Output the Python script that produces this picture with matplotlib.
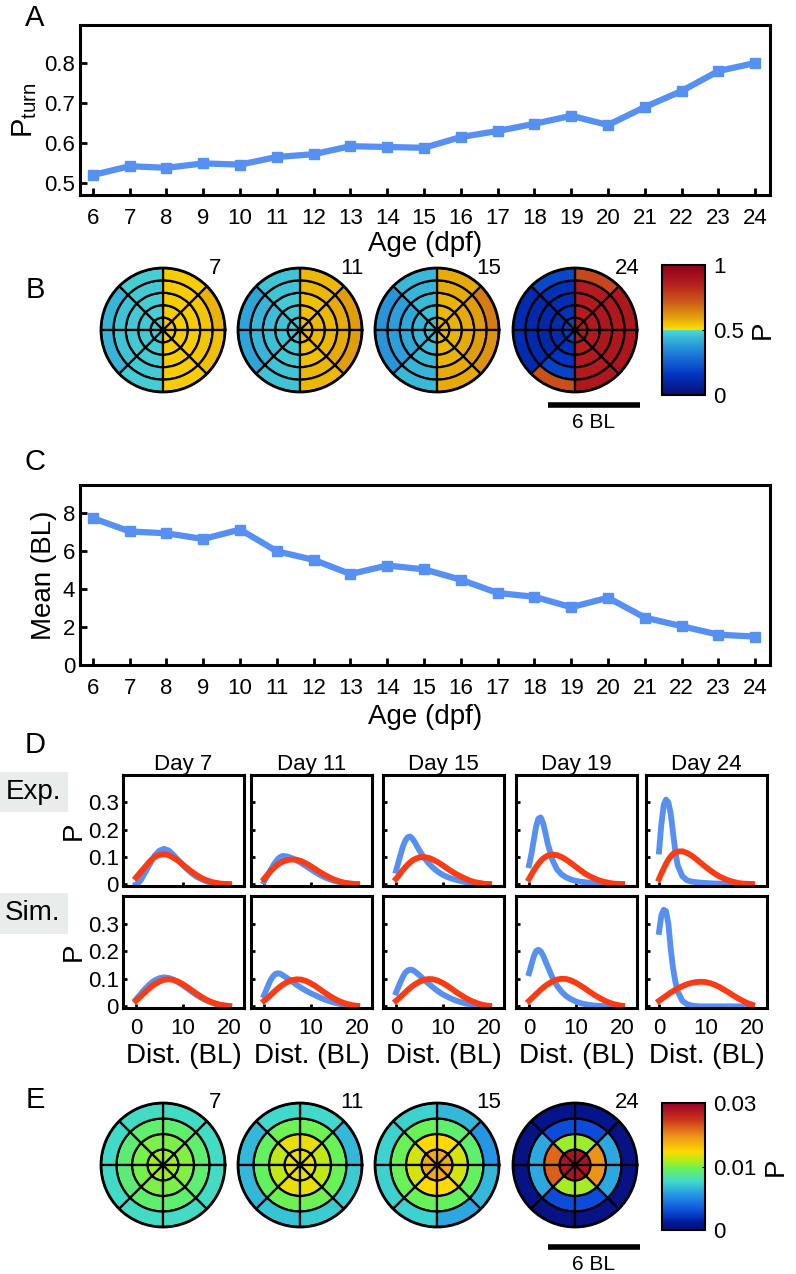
import numpy as np
import matplotlib
matplotlib.use('Agg')
import matplotlib.pyplot as plt
from matplotlib.colors import LinearSegmentedColormap, Normalize, PowerNorm
from matplotlib.cm import ScalarMappable
from matplotlib.lines import Line2D
from matplotlib.patches import Rectangle

plt.rcParams['font.family'] = ['Liberation Sans', 'DejaVu Sans']
plt.rcParams['mathtext.fontset'] = 'custom'
plt.rcParams['mathtext.rm'] = 'Liberation Sans'

# ---- data ----
ages = list(range(6, 25))
p_turn = [0.52, 0.542, 0.538, 0.549, 0.546, 0.565, 0.572, 0.592, 0.59, 0.588,
          0.615, 0.63, 0.648, 0.668, 0.645, 0.69, 0.73, 0.78, 0.80]
mean_dist = [7.75, 7.05, 6.95, 6.65, 7.15, 6.0, 5.55, 4.8, 5.25, 5.05,
             4.5, 3.8, 3.6, 3.05, 3.55, 2.5, 2.05, 1.6, 1.5]

rose_days = ['7', '11', '15', '24']
# turn probability per region: rows = rings (centre -> edge), cols = 45 deg sectors (ccw from east)
turn_map = [
    [[0.53, 0.53, 0.48, 0.48, 0.48, 0.48, 0.53, 0.53],
     [0.53, 0.53, 0.48, 0.47, 0.47, 0.48, 0.53, 0.53],
     [0.53, 0.53, 0.48, 0.47, 0.47, 0.48, 0.53, 0.53],
     [0.54, 0.53, 0.47, 0.46, 0.46, 0.47, 0.53, 0.54],
     [0.57, 0.53, 0.48, 0.43, 0.43, 0.48, 0.53, 0.55]],
    [[0.55, 0.55, 0.47, 0.47, 0.47, 0.47, 0.55, 0.55],
     [0.56, 0.55, 0.47, 0.46, 0.46, 0.47, 0.55, 0.56],
     [0.56, 0.55, 0.47, 0.45, 0.45, 0.47, 0.55, 0.56],
     [0.58, 0.56, 0.46, 0.43, 0.43, 0.46, 0.56, 0.58],
     [0.60, 0.56, 0.46, 0.40, 0.40, 0.46, 0.56, 0.60]],
    [[0.56, 0.56, 0.46, 0.46, 0.46, 0.46, 0.56, 0.56],
     [0.57, 0.56, 0.45, 0.43, 0.43, 0.45, 0.56, 0.57],
     [0.58, 0.57, 0.44, 0.41, 0.41, 0.44, 0.57, 0.58],
     [0.60, 0.58, 0.43, 0.39, 0.39, 0.43, 0.58, 0.60],
     [0.66, 0.58, 0.44, 0.37, 0.37, 0.44, 0.58, 0.62]],
    [[0.86, 0.86, 0.20, 0.17, 0.17, 0.20, 0.86, 0.86],
     [0.87, 0.86, 0.14, 0.12, 0.12, 0.14, 0.86, 0.87],
     [0.88, 0.87, 0.13, 0.11, 0.11, 0.15, 0.87, 0.88],
     [0.88, 0.87, 0.14, 0.11, 0.11, 0.19, 0.87, 0.88],
     [0.88, 0.76, 0.20, 0.12, 0.12, 0.74, 0.88, 0.89]],
]

# position probability per region (4 rings x 8 sectors)
pos_map = [
    [[0.0110, 0.0110, 0.0110, 0.0110, 0.0110, 0.0110, 0.0110, 0.0110],
     [0.0102, 0.0100, 0.0100, 0.0098, 0.0098, 0.0100, 0.0100, 0.0102],
     [0.0088, 0.0088, 0.0088, 0.0086, 0.0086, 0.0088, 0.0088, 0.0088],
     [0.0067, 0.0067, 0.0067, 0.0066, 0.0066, 0.0067, 0.0067, 0.0067]],
    [[0.0134, 0.0134, 0.0134, 0.0134, 0.0134, 0.0134, 0.0134, 0.0134],
     [0.0120, 0.0134, 0.0134, 0.0120, 0.0120, 0.0134, 0.0134, 0.0120],
     [0.0094, 0.0096, 0.0096, 0.0092, 0.0092, 0.0096, 0.0096, 0.0094],
     [0.0052, 0.0065, 0.0065, 0.0052, 0.0052, 0.0056, 0.0060, 0.0060]],
    [[0.0170, 0.0170, 0.0170, 0.0170, 0.0170, 0.0170, 0.0170, 0.0170],
     [0.0127, 0.0141, 0.0141, 0.0127, 0.0127, 0.0141, 0.0141, 0.0127],
     [0.0088, 0.0088, 0.0094, 0.0094, 0.0094, 0.0094, 0.0092, 0.0092],
     [0.0039, 0.0052, 0.0062, 0.0062, 0.0062, 0.0062, 0.0045, 0.0052]],
    [[0.0275, 0.0275, 0.0275, 0.0275, 0.0275, 0.0275, 0.0275, 0.0275],
     [0.0185, 0.0110, 0.0110, 0.0210, 0.0215, 0.0112, 0.0112, 0.0185],
     [0.0045, 0.0015, 0.0015, 0.0045, 0.0045, 0.0015, 0.0015, 0.0045],
     [0.0001, 0.0002, 0.0002, 0.0001, 0.0001, 0.0001, 0.0001, 0.0001]],
]

dist_days = ['Day 7', 'Day 11', 'Day 15', 'Day 19', 'Day 24']
dist = [0, 0.5, 1, 1.5, 2, 2.5, 3, 3.5, 4, 5, 6, 7, 8, 9, 10, 11, 12, 13, 14, 15, 16, 17, 18, 19, 20]
exp_obs = [
    [0.0, 0.005, 0.015, 0.03, 0.045, 0.06, 0.075, 0.09, 0.105, 0.123, 0.13, 0.124, 0.108, 0.09, 0.072, 0.055, 0.04, 0.028, 0.019, 0.012, 0.007, 0.004, 0.002, 0.001, 0.0],
    [0.01, 0.025, 0.04, 0.055, 0.07, 0.082, 0.093, 0.1, 0.104, 0.102, 0.096, 0.088, 0.078, 0.067, 0.056, 0.045, 0.035, 0.026, 0.019, 0.013, 0.009, 0.006, 0.003, 0.002, 0.001],
    [0.05, 0.08, 0.11, 0.14, 0.16, 0.172, 0.175, 0.168, 0.155, 0.125, 0.098, 0.077, 0.06, 0.046, 0.035, 0.027, 0.021, 0.016, 0.012, 0.008, 0.005, 0.003, 0.002, 0.001, 0.0],
    [0.07, 0.11, 0.16, 0.21, 0.24, 0.245, 0.225, 0.19, 0.15, 0.09, 0.055, 0.036, 0.025, 0.018, 0.013, 0.01, 0.008, 0.006, 0.004, 0.003, 0.002, 0.001, 0.001, 0.0, 0.0],
    [0.12, 0.22, 0.29, 0.31, 0.30, 0.26, 0.19, 0.12, 0.07, 0.03, 0.015, 0.01, 0.008, 0.006, 0.005, 0.004, 0.003, 0.003, 0.002, 0.002, 0.001, 0.001, 0.001, 0.0, 0.0],
]
exp_fit = [
    [0.025, 0.035, 0.045, 0.055, 0.065, 0.075, 0.085, 0.093, 0.1, 0.108, 0.11, 0.107, 0.098, 0.087, 0.073, 0.059, 0.046, 0.034, 0.024, 0.016, 0.01, 0.006, 0.003, 0.002, 0.001],
    [0.02, 0.03, 0.04, 0.05, 0.058, 0.066, 0.073, 0.078, 0.083, 0.089, 0.091, 0.09, 0.085, 0.077, 0.067, 0.056, 0.045, 0.035, 0.026, 0.018, 0.012, 0.007, 0.004, 0.002, 0.001],
    [0.02, 0.03, 0.042, 0.053, 0.063, 0.072, 0.08, 0.087, 0.092, 0.099, 0.1, 0.097, 0.09, 0.081, 0.07, 0.058, 0.047, 0.037, 0.028, 0.02, 0.013, 0.008, 0.005, 0.002, 0.001],
    [0.02, 0.035, 0.05, 0.063, 0.075, 0.086, 0.094, 0.1, 0.105, 0.109, 0.107, 0.1, 0.09, 0.078, 0.065, 0.052, 0.04, 0.03, 0.022, 0.015, 0.01, 0.006, 0.003, 0.002, 0.001],
    [0.02, 0.04, 0.058, 0.075, 0.09, 0.102, 0.111, 0.117, 0.12, 0.121, 0.115, 0.105, 0.092, 0.078, 0.064, 0.051, 0.039, 0.029, 0.021, 0.014, 0.009, 0.005, 0.003, 0.002, 0.001],
]
sim_obs = [
    [0.025, 0.035, 0.045, 0.055, 0.064, 0.073, 0.081, 0.088, 0.094, 0.102, 0.105, 0.103, 0.097, 0.088, 0.077, 0.065, 0.053, 0.041, 0.031, 0.022, 0.015, 0.009, 0.005, 0.003, 0.001],
    [0.04, 0.06, 0.08, 0.098, 0.11, 0.118, 0.12, 0.118, 0.113, 0.102, 0.09, 0.078, 0.067, 0.057, 0.048, 0.04, 0.032, 0.025, 0.019, 0.014, 0.01, 0.006, 0.004, 0.002, 0.001],
    [0.05, 0.07, 0.09, 0.108, 0.122, 0.13, 0.133, 0.132, 0.127, 0.113, 0.097, 0.082, 0.068, 0.055, 0.044, 0.035, 0.027, 0.02, 0.015, 0.01, 0.007, 0.004, 0.002, 0.001, 0.0],
    [0.12, 0.15, 0.18, 0.2, 0.205, 0.2, 0.185, 0.165, 0.145, 0.105, 0.075, 0.053, 0.037, 0.026, 0.018, 0.012, 0.008, 0.005, 0.003, 0.002, 0.001, 0.0, 0.0, 0.0, 0.0],
    [0.27, 0.33, 0.35, 0.345, 0.3, 0.21, 0.14, 0.09, 0.055, 0.02, 0.008, 0.003, 0.001, 0.0, 0.0, 0.0, 0.0, 0.0, 0.0, 0.0, 0.0, 0.0, 0.0, 0.0, 0.0],
]
sim_fit = [
    [0.02, 0.028, 0.036, 0.044, 0.052, 0.06, 0.067, 0.074, 0.08, 0.09, 0.096, 0.098, 0.096, 0.09, 0.081, 0.07, 0.058, 0.046, 0.035, 0.025, 0.017, 0.011, 0.006, 0.003, 0.001],
    [0.02, 0.027, 0.034, 0.042, 0.05, 0.058, 0.065, 0.072, 0.078, 0.088, 0.095, 0.098, 0.097, 0.092, 0.084, 0.074, 0.062, 0.05, 0.039, 0.029, 0.02, 0.013, 0.008, 0.004, 0.002],
    [0.02, 0.027, 0.035, 0.043, 0.051, 0.059, 0.066, 0.073, 0.079, 0.089, 0.096, 0.099, 0.098, 0.093, 0.085, 0.075, 0.063, 0.051, 0.04, 0.03, 0.021, 0.014, 0.008, 0.004, 0.002],
    [0.02, 0.028, 0.036, 0.044, 0.052, 0.06, 0.067, 0.074, 0.08, 0.09, 0.097, 0.1, 0.099, 0.094, 0.086, 0.076, 0.065, 0.053, 0.042, 0.032, 0.023, 0.015, 0.009, 0.005, 0.002],
    [0.02, 0.026, 0.032, 0.038, 0.044, 0.05, 0.055, 0.06, 0.065, 0.073, 0.08, 0.085, 0.088, 0.089, 0.088, 0.084, 0.078, 0.07, 0.06, 0.05, 0.039, 0.029, 0.02, 0.012, 0.006],
]

# ---- style ----
blue = '#5590f2'
red = '#fa3c14'
cmap_turn = LinearSegmentedColormap.from_list('turn', [
    (0.0, (0.05, 0.05, 0.45)), (0.15, (0.0, 0.2, 0.75)), (0.3, (0.1, 0.45, 0.85)),
    (0.42, (0.2, 0.68, 0.85)), (0.499, (0.3, 0.85, 0.82)), (0.5, (1.0, 0.88, 0.0)),
    (0.6, (0.88, 0.62, 0.05)), (0.72, (0.8, 0.35, 0.1)), (0.85, (0.72, 0.12, 0.12)),
    (1.0, (0.55, 0.0, 0.1))])
cmap_pos = LinearSegmentedColormap.from_list('pos', [
    (0.0, (0.05, 0.05, 0.45)), (0.06, (0.0, 0.1, 0.6)), (0.15, (0.05, 0.3, 0.85)),
    (0.28, (0.15, 0.6, 0.9)), (0.38, (0.25, 0.85, 0.8)), (0.48, (0.4, 0.95, 0.35)),
    (0.55, (0.7, 0.92, 0.1)), (0.62, (1.0, 0.85, 0.0)), (0.75, (0.92, 0.55, 0.1)),
    (0.87, (0.8, 0.2, 0.1)), (1.0, (0.6, 0.0, 0.15))])
norm_turn = Normalize(0, 1)
norm_pos = PowerNorm(gamma=0.631, vmin=0, vmax=0.03)

W, H = 796, 1274
fig = plt.figure(figsize=(W / 100, H / 100), dpi=100)


def box(x0, y0, x1, y1):
    return [x0 / W, 1 - y1 / H, (x1 - x0) / W, (y1 - y0) / H]


def style(ax, lab=16):
    for s in ax.spines.values():
        s.set_linewidth(2.2)
    ax.tick_params(direction='in', width=2, length=5, labelsize=lab, top=False, right=False)


def rose(rect, vals, cmap, norm, label):
    ax = fig.add_axes(rect, projection='polar')
    vals = np.asarray(vals)
    nr, ns = vals.shape
    w = 2 * np.pi / ns
    th = (np.arange(ns) + 0.5) * w
    for i in range(nr):
        ax.bar(th, 1, width=w, bottom=i, color=cmap(norm(vals[i])), edgecolor='k', linewidth=1.6)
    ax.set_ylim(0, nr)
    ax.set_xticks([])
    ax.set_yticks([])
    ax.grid(False)
    ax.spines['polar'].set_linewidth(2)
    ax.text(0.92, 1.0, label, transform=ax.transAxes, ha='center', va='center', fontsize=16)
    return ax


def colorbar(rect, cmap, norm, ticks, labels):
    cax = fig.add_axes(rect)
    cb = fig.colorbar(ScalarMappable(norm=norm, cmap=cmap), cax=cax)
    cb.set_ticks(ticks)
    cb.set_ticklabels(labels)
    cb.outline.set_linewidth(1.5)
    cax.tick_params(length=2, direction='in', labelsize=16, pad=6)
    cb.set_label('P', fontsize=20, labelpad=4)


def scalebar(x0, x1, y, ty):
    fig.add_artist(Line2D([x0 / W, x1 / W], [1 - y / H, 1 - y / H], transform=fig.transFigure,
                          color='k', lw=4, solid_capstyle='butt'))
    fig.text((x0 + x1) / 2 / W, 1 - ty / H, '6 BL', ha='center', va='center', fontsize=15)


# ---- A ----
ax = fig.add_axes(box(80, 25, 770, 195))
ax.plot(ages, p_turn, color=blue, lw=4.5, marker='s', ms=7.5)
ax.set_xlim(5.65, 24.4)
ax.set_ylim(0.47, 0.895)
ax.set_xticks(ages)
ax.set_yticks([0.5, 0.6, 0.7, 0.8])
style(ax)
ax.tick_params(axis='x', pad=9)
ax.set_xlabel('Age (dpf)', fontsize=20, labelpad=2)
ax.set_ylabel('P$_{\\mathrm{turn}}$', fontsize=21, labelpad=4)

# ---- B ----
xc = [163, 300, 437, 575]
r = 62
for k in range(4):
    rose(box(xc[k] - r, 330 - r, xc[k] + r, 330 + r), turn_map[k], cmap_turn, norm_turn, rose_days[k])
colorbar(box(662, 265, 705, 395), cmap_turn, norm_turn, [0, 0.5, 1], ['0', '0.5', '1'])
scalebar(548, 640, 405, 423)

# ---- C ----
ax = fig.add_axes(box(80, 485, 770, 665))
ax.plot(ages, mean_dist, color=blue, lw=4.5, marker='s', ms=7.5)
ax.set_xlim(5.65, 24.4)
ax.set_ylim(0, 9.5)
ax.set_xticks(ages)
ax.set_yticks([0, 2, 4, 6, 8])
style(ax)
ax.tick_params(axis='x', pad=9)
ax.set_xlabel('Age (dpf)', fontsize=20, labelpad=4)
ax.set_ylabel('Mean (BL)', fontsize=20, labelpad=4)

# ---- D ----
lefts = [123, 251, 383, 516, 646]
rows = [(775, 886, exp_obs, exp_fit), (896, 1008, sim_obs, sim_fit)]
for ri, (top, bot, obs, fit) in enumerate(rows):
    for ci in range(5):
        ax = fig.add_axes(box(lefts[ci], top, lefts[ci] + 121, bot))
        ax.plot(dist, obs[ci], color=blue, lw=4.2, solid_joinstyle='round')
        ax.plot(dist, fit[ci], color=red, lw=4.2, solid_joinstyle='round')
        ax.set_xlim(-2.8, 23.2)
        ax.set_ylim(-0.006, 0.4)
        ax.set_xticks([0, 10, 20])
        ax.set_yticks([0, 0.1, 0.2, 0.3])
        ax.set_yticklabels(['0', '0.1', '0.2', '0.3'])
        style(ax)
        ax.tick_params(length=3, pad=3)
        ax.tick_params(axis='x', pad=7)
        if ci > 0:
            ax.set_yticklabels([])
        else:
            ax.set_ylabel('P', fontsize=20, labelpad=1)
        if ri == 0:
            ax.set_xticklabels([])
            ax.set_title(dist_days[ci], fontsize=16, pad=3)
        else:
            ax.set_xlabel('Dist. (BL)', fontsize=20, labelpad=3)

for lab, (y0, y1) in [('Exp.', (772, 812)), ('Sim.', (893, 934))]:
    fig.add_artist(Rectangle((0, 1 - y1 / H), 68 / W, (y1 - y0) / H, transform=fig.transFigure,
                             facecolor='#e8ecea', edgecolor='none'))
    fig.text(33 / W, 1 - (y0 + y1) / 2 / H, lab, ha='center', va='center', fontsize=20)

# ---- E ----
for k in range(4):
    rose(box(xc[k] - r, 1165 - r, xc[k] + r, 1165 + r), pos_map[k], cmap_pos, norm_pos, rose_days[k])
colorbar(box(662, 1103, 705, 1230), cmap_pos, norm_pos, [0, 0.01, 0.03], ['0', '0.01', '0.03'])
scalebar(548, 640, 1247, 1264)

# panel letters
for lab, y in [('A', 18), ('B', 290), ('C', 462), ('D', 745), ('E', 1100)]:
    fig.text(35 / W, 1 - y / H, lab, ha='center', va='center', fontsize=21)

plt.savefig('out.png', dpi=100)
